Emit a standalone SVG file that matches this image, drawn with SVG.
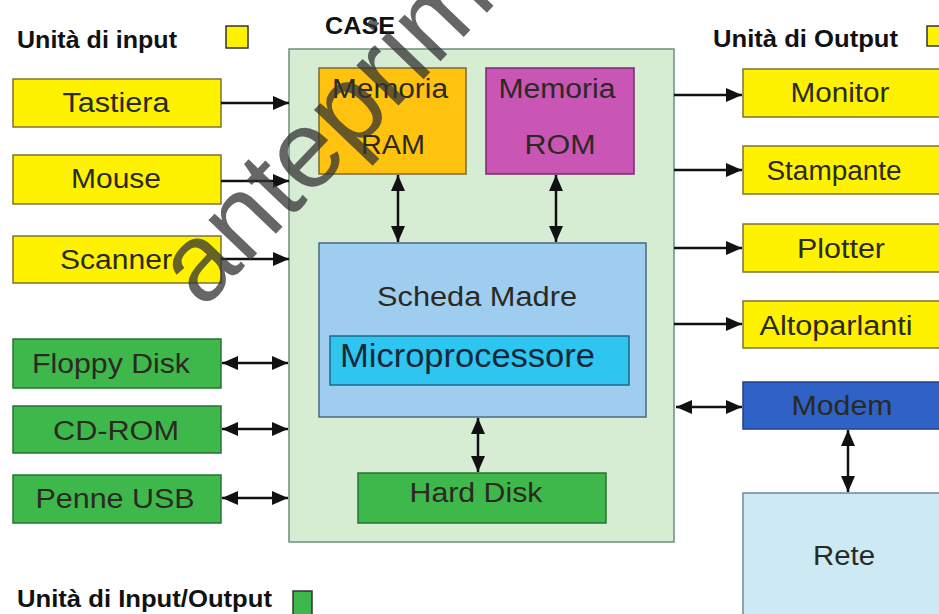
<svg xmlns="http://www.w3.org/2000/svg" width="939" height="614" viewBox="0 0 939 614">
<style>
  text { font-family: "Liberation Sans", Arial, sans-serif; }
  .leg { font-size: 23px; font-weight: bold; fill: #111; }
  .lbl { font-size: 27px; fill: #2a2a22; text-anchor: middle; }
  .yel { fill: #fff200; stroke: #7d7236; stroke-width: 1.5; }
  .grn { fill: #3fb84b; stroke: #2b7233; stroke-width: 1.5; }
  .con { stroke: #111; stroke-width: 2.5; fill: none; }
  .one { marker-end: url(#ah); }
  .two { marker-end: url(#ah); marker-start: url(#ah); }
</style>
<defs>
  <marker id="ah" markerUnits="userSpaceOnUse" markerWidth="17" markerHeight="15" refX="16" refY="7" orient="auto-start-reverse" viewBox="0 0 17 15">
    <path d="M0,0 L16,7 L0,14 z" fill="#111"/>
  </marker>
</defs>
<rect width="939" height="614" fill="#fff"/>

<g id="legend">
  <text class="leg" x="17" y="48" textLength="160" lengthAdjust="spacingAndGlyphs">Unità di input</text>
  <rect x="226" y="26" width="22" height="22" fill="#fff200" stroke="#333" stroke-width="1.5"/>
  <text class="leg" x="713" y="47" textLength="185" lengthAdjust="spacingAndGlyphs">Unità di Output</text>
  <rect x="927" y="26" width="22" height="20" fill="#fff200" stroke="#333" stroke-width="1.5"/>
  <text class="leg" x="17" y="607" textLength="255" lengthAdjust="spacingAndGlyphs">Unità di Input/Output</text>
  <rect x="293" y="591" width="19" height="26" fill="#3fb84b" stroke="#333" stroke-width="1.5"/>
</g>

<g id="case">
  <rect x="289" y="49" width="385" height="493" fill="#d6ecd3" stroke="#6f8f78" stroke-width="1.5"/>
  <text class="leg" x="325" y="34" textLength="70" lengthAdjust="spacingAndGlyphs">CASE</text>
</g>

<g id="tastiera">
  <rect class="yel" x="13" y="79" width="208" height="48"/>
  <text class="lbl" x="116" y="112" textLength="107" lengthAdjust="spacingAndGlyphs">Tastiera</text>
</g>
<g id="mouse">
  <rect class="yel" x="13" y="155" width="208" height="49"/>
  <text class="lbl" x="116" y="188" textLength="90" lengthAdjust="spacingAndGlyphs">Mouse</text>
</g>
<g id="scanner">
  <rect class="yel" x="13" y="236" width="208" height="47"/>
  <text class="lbl" x="116" y="269" textLength="112" lengthAdjust="spacingAndGlyphs">Scanner</text>
</g>

<g id="floppy">
  <rect class="grn" x="13" y="339" width="208" height="49"/>
  <text class="lbl" x="111" y="373" textLength="158" lengthAdjust="spacingAndGlyphs" fill="#183818">Floppy Disk</text>
</g>
<g id="cdrom">
  <rect class="grn" x="13" y="406" width="208" height="47"/>
  <text class="lbl" x="116" y="440" textLength="126" lengthAdjust="spacingAndGlyphs" fill="#183818">CD-ROM</text>
</g>
<g id="penne">
  <rect class="grn" x="13" y="475" width="208" height="48"/>
  <text class="lbl" x="115" y="508" textLength="159" lengthAdjust="spacingAndGlyphs" fill="#183818">Penne USB</text>
</g>

<g id="ram">
  <rect x="319" y="68" width="147" height="106" fill="#ffc20e" stroke="#7a6a30" stroke-width="1.5"/>
  <text class="lbl" x="390" y="98" textLength="116" lengthAdjust="spacingAndGlyphs" fill="#4a3c20">Memoria</text>
  <text class="lbl" x="393" y="154" textLength="64" lengthAdjust="spacingAndGlyphs" fill="#4a3c20">RAM</text>
</g>
<g id="rom">
  <rect x="486" y="68" width="148" height="106" fill="#c955b5" stroke="#7a2a70" stroke-width="1.5"/>
  <text class="lbl" x="557" y="98" textLength="117" lengthAdjust="spacingAndGlyphs" fill="#5a2470">Memoria</text>
  <text class="lbl" x="560" y="154" textLength="71" lengthAdjust="spacingAndGlyphs" fill="#5a2470">ROM</text>
</g>
<g id="scheda">
  <rect x="319" y="243" width="327" height="174" fill="#9fcdef" stroke="#4a6a80" stroke-width="1.5"/>
  <text class="lbl" x="477" y="306" textLength="200" lengthAdjust="spacingAndGlyphs" fill="#243850">Scheda Madre</text>
</g>
<g id="micro">
  <rect x="330" y="336" width="299" height="49" fill="#2ec6f0" stroke="#1a6a8a" stroke-width="1.5"/>
  <text x="340" y="367" font-size="33" fill="#14283a" textLength="255" lengthAdjust="spacingAndGlyphs">Microprocessore</text>
</g>
<g id="harddisk">
  <rect class="grn" x="358" y="473" width="248" height="50"/>
  <text class="lbl" x="476" y="502" textLength="133" lengthAdjust="spacingAndGlyphs" fill="#183818">Hard Disk</text>
</g>

<g id="monitor">
  <rect class="yel" x="743" y="69" width="205" height="48"/>
  <text class="lbl" x="840" y="102" textLength="99" lengthAdjust="spacingAndGlyphs">Monitor</text>
</g>
<g id="stampante">
  <rect class="yel" x="743" y="146" width="205" height="48"/>
  <text class="lbl" x="834" y="180" textLength="135" lengthAdjust="spacingAndGlyphs">Stampante</text>
</g>
<g id="plotter">
  <rect class="yel" x="743" y="224" width="205" height="48"/>
  <text class="lbl" x="841" y="258" textLength="88" lengthAdjust="spacingAndGlyphs">Plotter</text>
</g>
<g id="altoparlanti">
  <rect class="yel" x="743" y="301" width="205" height="47"/>
  <text class="lbl" x="836" y="335" textLength="153" lengthAdjust="spacingAndGlyphs">Altoparlanti</text>
</g>
<g id="modem">
  <rect x="743" y="382" width="205" height="47" fill="#2f62c4" stroke="#1e3f86" stroke-width="1.5"/>
  <text class="lbl" x="842" y="415" textLength="101" lengthAdjust="spacingAndGlyphs" fill="#f4f6ff">Modem</text>
</g>
<g id="rete">
  <rect x="743" y="493" width="205" height="130" fill="#cde9f4" stroke="#6a8a9a" stroke-width="1.5"/>
  <text class="lbl" x="844" y="565" textLength="62" lengthAdjust="spacingAndGlyphs" fill="#1e2a30">Rete</text>
</g>

<g id="connectors">
  <line class="con one" x1="221" y1="103" x2="289" y2="103"/>
  <line class="con one" x1="221" y1="181" x2="289" y2="181"/>
  <line class="con one" x1="221" y1="259" x2="289" y2="259"/>
  <line class="con two" x1="222" y1="363" x2="288" y2="363"/>
  <line class="con two" x1="222" y1="429" x2="288" y2="429"/>
  <line class="con two" x1="222" y1="498" x2="288" y2="498"/>
  <line class="con two" x1="398" y1="175" x2="398" y2="242"/>
  <line class="con two" x1="556" y1="175" x2="556" y2="242"/>
  <line class="con two" x1="478" y1="418" x2="478" y2="472"/>
  <line class="con one" x1="674" y1="95" x2="742" y2="95"/>
  <line class="con one" x1="674" y1="170" x2="742" y2="170"/>
  <line class="con one" x1="674" y1="248" x2="742" y2="248"/>
  <line class="con one" x1="674" y1="324" x2="742" y2="324"/>
  <line class="con two" x1="676" y1="407" x2="742" y2="407"/>
  <line class="con two" x1="848" y1="430" x2="848" y2="492"/>
</g>

<text x="203" y="310" font-size="110" fill="#333" fill-opacity="0.75" transform="rotate(-46.3 203 310)">anteprima</text>
</svg>
